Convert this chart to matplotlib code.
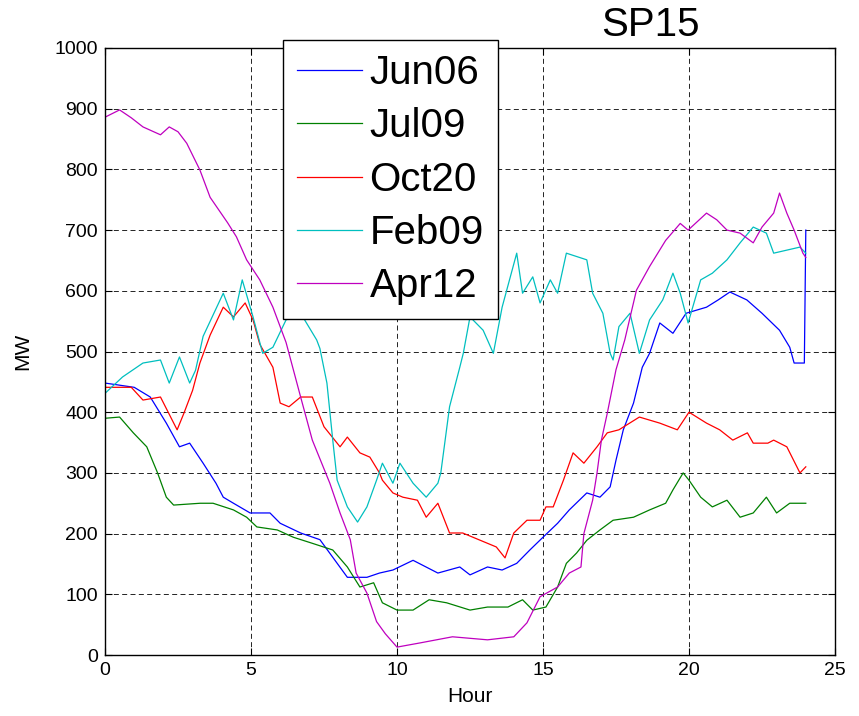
import matplotlib
matplotlib.use('Agg')
import matplotlib.pyplot as plt

plt.rcParams['font.family'] = ['Liberation Sans', 'DejaVu Sans']

# values (hour, MW)
jun06_h = [0, 1, 1.55, 2.1, 2.55, 2.9, 3.36, 3.8, 4.05, 4.4, 4.97, 5.65, 6, 6.7, 7.36, 7.8, 8.3, 8.97,
           9.4, 9.86, 10.55, 11.4, 12.15, 12.5, 13.1, 13.6, 14.1, 14.55, 15, 15.5, 15.9, 16.5, 16.95,
           17.3, 17.5, 17.75, 18.1, 18.4, 18.65, 19, 19.45, 19.9, 20.6, 21, 21.4, 21.98, 22.5, 23.1,
           23.45, 23.6, 23.95, 24]
jun06_mw = [448, 441, 425, 382, 343, 349, 316, 283, 260, 250, 234, 234, 217, 201, 190, 161, 128, 128,
            135, 140, 156, 135, 145, 132, 145, 140, 151, 173, 194, 217, 239, 267, 260,
            277, 321, 371, 415, 474, 497, 547, 530, 563, 573, 585, 598, 585, 563, 535,
            507, 481, 481, 700]

jul09_h = [0, 0.5, 0.97, 1.43, 1.8, 2.1, 2.35, 3.26, 3.7, 4.4, 4.85, 5.2, 5.9, 6.45, 7.1, 7.8, 8.3, 8.73,
           9.2, 9.5, 10, 10.55, 11.1, 11.7, 12.5, 13.1, 13.8, 14.3, 14.65, 15.1, 15.5, 15.8, 16.15, 16.5,
           16.95, 17.4, 18.1, 18.65, 19.2, 19.45, 19.8, 20, 20.4, 20.8, 21.3, 21.75, 22.2, 22.65, 23,
           23.45, 24]
jul09_mw = [390, 392, 366, 343, 300, 260, 247, 250, 250, 239, 227, 211, 206, 194, 184, 173, 145, 112,
            119, 86, 74, 74, 91, 86, 74, 79, 79, 91, 74, 79, 112, 151, 168, 189,
            206, 222, 227, 239, 250, 272, 300, 288, 260, 244, 255, 227, 234, 260, 234,
            250, 250]

oct20_h = [0, 0.9, 1.3, 1.9, 2.47, 2.7, 3, 3.25, 3.6, 4.05, 4.4, 4.8, 5.07, 5.3, 5.75, 6, 6.3, 6.7, 7.1,
           7.5, 8.05, 8.3, 8.73, 9.07, 9.4, 9.5, 9.86, 10.2, 10.7, 11, 11.4, 11.8, 12.25, 12.85, 13.4,
           13.7, 14, 14.45, 14.9, 15.1, 15.35, 15.7, 16.03, 16.4, 16.85, 17.2, 17.6, 18.3, 19, 19.6,
           20, 20.6, 21.05, 21.5, 22, 22.2, 22.7, 22.9, 23.35, 23.8, 24]
oct20_mw = [441, 441, 420, 425, 371, 398, 436, 481, 527, 573, 557, 580, 552, 512, 474, 415, 409, 425, 425,
            376, 343, 359, 333, 326, 300, 288, 267, 260, 255, 227, 250, 201, 201, 189, 178,
            160, 201, 222, 222, 244, 244, 288, 333, 316, 343, 366, 371, 392, 382, 371,
            400, 382, 371, 354, 366, 349, 349, 354, 343, 300, 310]

feb09_h = [0, 0.6, 1.3, 1.9, 2.2, 2.55, 2.9, 3.1, 3.36, 4.05, 4.4, 4.7, 5.07, 5.4, 5.75, 6.2, 6.7, 7.25,
           7.36, 7.6, 7.8, 7.95, 8.3, 8.65, 8.97, 9.3, 9.5, 9.86, 10.1, 10.55, 11, 11.4, 11.5, 11.8,
           12.15, 12.27, 12.5, 12.95, 13.3, 13.6, 14.1, 14.3, 14.65, 14.9, 15.25, 15.5, 15.8, 16.5,
           16.7, 17.05, 17.3, 17.4, 17.6, 17.98, 18.3, 18.65, 19.1, 19.45, 19.7, 19.97, 20.4, 20.8,
           21.3, 21.75, 22.2, 22.65, 22.9, 23.35, 23.8, 24]
feb09_mw = [431, 458, 481, 486, 448, 491, 448, 469, 525, 596, 552, 618, 557, 497, 507, 552, 563, 519,
            505, 448, 354, 288, 244, 219, 244, 288, 316, 283, 316, 283, 260, 283, 300, 409,
            474, 497, 557, 535, 497, 573, 662, 596, 623, 580, 618, 596, 662, 651,
            596, 563, 497, 486, 541, 563, 497, 552, 585, 629, 596, 547, 618, 629,
            651, 679, 705, 695, 662, 667, 672, 662]

apr12_h = [0, 0.5, 0.9, 1.3, 1.9, 2.2, 2.5, 2.8, 3.25, 3.6, 4.2, 4.5, 4.85, 5.3, 5.75, 6.2, 6.7, 7.1,
           7.7, 8.05, 8.4, 8.6, 8.97, 9.3, 9.6, 10, 10.8, 11.9, 13.1, 14, 14.45, 14.9, 15.5, 15.9,
           16.3, 16.4, 16.7, 16.85, 17, 17.2, 17.5, 17.8, 18.2, 18.65, 19.2, 19.7, 19.97, 20.6, 20.95,
           21.3, 21.75, 22.2, 22.5, 22.9, 23.1, 23.35, 23.6, 23.9, 24]
apr12_mw = [886, 898, 885, 870, 857, 870, 862, 843, 799, 754, 712, 689, 651, 618, 573, 515, 425, 354,
            283, 234, 190, 135, 102, 55, 35, 13, 20, 30, 25, 30, 53, 96, 112, 135,
            145, 200, 255, 300, 354, 398, 470, 519, 601, 640, 683, 711, 700, 728, 717,
            700, 695, 679, 705, 728, 761, 728, 700, 662, 655]

names = ['Jun06', 'Jul09', 'Oct20', 'Feb09', 'Apr12']
colors = ['#0000ff', '#008000', '#ff0000', '#00bfbf', '#bf00bf']

fig = plt.figure(figsize=(8.59, 7.16), dpi=100)
ax = fig.add_axes([105/859, 61/716, 730/859, 607/716])

series = [(jun06_h, jun06_mw), (jul09_h, jul09_mw), (oct20_h, oct20_mw),
          (feb09_h, feb09_mw), (apr12_h, apr12_mw)]
for (h, mw), nm, c in zip(series, names, colors):
    ax.plot(h, mw, color=c, lw=0.9, label=nm)

ax.set_xlim(0, 25)
ax.set_ylim(0, 1000)
ax.set_xticks(range(0, 26, 5))
ax.set_yticks(range(0, 1001, 100))
ax.grid(True, color='black', ls=(0, (6, 4)), lw=0.6)
ax.tick_params(direction='in', length=5, top=True, right=True, labelsize=14, pad=5)
for s in ax.spines.values():
    s.set_linewidth(1.0)

ax.set_xlabel('Hour', fontsize=15, labelpad=6)
ax.set_ylabel('MW', fontsize=15, labelpad=16)
fig.text(650/859, 1 - 25/716, 'SP15', fontsize=29, ha='center', va='center')

leg = ax.legend(loc='upper left', bbox_to_anchor=(283/859, 1 - 40/716),
                bbox_transform=fig.transFigure, fontsize=29, frameon=True,
                fancybox=False, borderpad=0.35, labelspacing=0.38,
                handlelength=1.6, handletextpad=0.2, borderaxespad=0)
leg.get_frame().set_edgecolor('black')
leg.get_frame().set_linewidth(1.0)
leg.get_frame().set_alpha(1)

fig.savefig('out.png', dpi=100)
